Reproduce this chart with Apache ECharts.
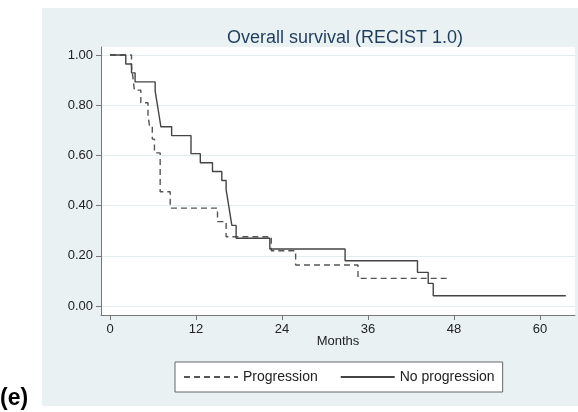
<!DOCTYPE html>
<html>
<head>
<meta charset="utf-8">
<script src="https://cdn.jsdelivr.net/npm/echarts@6/dist/echarts.min.js"></script>
<style>html,body{margin:0;padding:0;background:#fff;}#c{width:578px;height:412px;}</style>
</head>
<body>
<div id="c"></div>
<script>
// Kaplan-Meier step data (time in months, survival after the event)
const progTimes = [0, 3.0, 3.2, 3.4, 4.3, 5.3, 5.5, 5.9, 6.2, 7.0, 8.4, 15.0, 16.2, 22.5, 25.9, 34.6, 47.0];
const progSurv  = [1, 0.955, 0.91, 0.86, 0.81, 0.76, 0.72, 0.665, 0.61, 0.455, 0.39, 0.336, 0.276, 0.22, 0.163, 0.11, 0.11];
const noProgTimes = [0, 2.2, 3.0, 3.5, 6.3, 6.5, 6.7, 6.9, 7.1, 8.6, 11.3, 12.6, 14.3, 15.6, 16.2, 16.4, 16.6, 16.8, 17.0, 17.6, 22.3, 32.8, 42.9, 44.4, 45.1, 63.6];
const noProgSurv  = [1, 0.964, 0.929, 0.893, 0.857, 0.821, 0.786, 0.75, 0.714, 0.679, 0.607, 0.571, 0.536, 0.5, 0.464, 0.429, 0.393, 0.357, 0.321, 0.27, 0.227, 0.18, 0.134, 0.09, 0.041, 0.041];
const xTicks = [0, 12, 24, 36, 48, 60];
const yTicks = [0, 0.2, 0.4, 0.6, 0.8, 1.0];
const seriesNames = ['Progression', 'No progression'];

const pair = (t, s) => t.map((v, i) => [v, s[i]]);
const font = 'Liberation Sans, Arial, sans-serif';

const chart = echarts.init(document.getElementById('c'), null, {renderer: 'canvas'});
chart.setOption({
  animation: false,
  backgroundColor: '#ffffff',
  graphic: [
    {type: 'rect', z: -10, shape: {x: 42, y: 8, width: 536, height: 398}, style: {fill: '#e9f1f3'}, silent: true},
    {type: 'text', z: 10, left: 0, top: 387, style: {text: '(e)', font: 'bold 23px Liberation Sans, Arial, sans-serif', fill: '#000'}}
  ],
  title: {
    text: 'Overall survival (RECIST 1.0)',
    left: 340, top: 24, textAlign: 'center',
    textStyle: {fontFamily: font, fontSize: 18, fontWeight: 'normal', color: '#1f3d5c'}
  },
  legend: {
    left: 175, top: 362,
    padding: [8, 8, 8, 8],
    itemGap: 22,
    itemWidth: 54, itemHeight: 12,
    borderColor: '#666', borderWidth: 1, borderRadius: 0,
    backgroundColor: '#ffffff',
    itemStyle: {opacity: 0},
    textStyle: {fontFamily: font, fontSize: 14, color: '#222'},
    data: seriesNames
  },
  grid: {
    left: 101, top: 47, right: 3, bottom: 97,
    show: true, backgroundColor: '#ffffff', borderWidth: 0
  },
  xAxis: {
    type: 'value', min: -1.256, max: 64.88,
    name: 'Months', nameLocation: 'middle', nameGap: 20, nameMoveOverlap: false,
    nameTextStyle: {fontFamily: font, fontSize: 13, color: '#222', verticalAlign: 'top'},
    axisLine: {show: true, onZero: false, lineStyle: {color: '#777', width: 1}},
    axisTick: {show: true, length: 5, customValues: xTicks, lineStyle: {color: '#777'}},
    axisLabel: {customValues: xTicks, margin: 8, fontFamily: font, fontSize: 13, color: '#222'},
    splitLine: {show: false}
  },
  yAxis: {
    type: 'value', min: -0.036, max: 1.032,
    axisLine: {show: true, onZero: false, lineStyle: {color: '#777', width: 1}},
    axisTick: {show: true, length: 5, customValues: yTicks, lineStyle: {color: '#777'}},
    axisLabel: {customValues: yTicks, margin: 8, fontFamily: font, fontSize: 13, color: '#222',
      formatter: v => v.toFixed(2)},
    splitLine: {show: true, lineStyle: {color: '#e3eef1', width: 1}}
  },
  series: [
    {
      name: seriesNames[0], type: 'line', step: 'end', showSymbol: false, symbol: 'none',
      data: pair(progTimes, progSurv),
      lineStyle: {color: '#555', width: 1.4, type: [6, 4]},
      itemStyle: {color: '#555'}
    },
    {
      name: seriesNames[1], type: 'line', step: 'end', showSymbol: false, symbol: 'none',
      data: pair(noProgTimes, noProgSurv),
      lineStyle: {color: '#444', width: 1.4, type: 'solid'},
      itemStyle: {color: '#444'}
    }
  ]
});
</script>
</body>
</html>
